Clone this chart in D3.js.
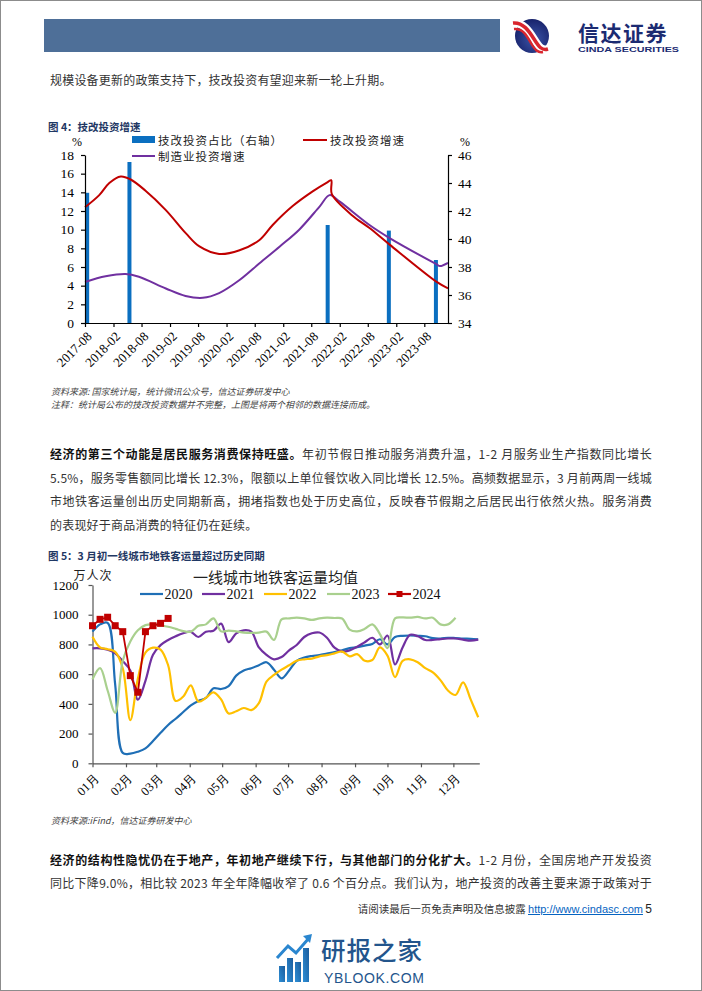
<!DOCTYPE html>
<html lang="zh"><head><meta charset="utf-8">
<script src="https://cdn.jsdelivr.net/npm/d3@7/dist/d3.min.js"></script>
<style>
html,body{margin:0;padding:0;}
body{width:702px;height:991px;position:relative;overflow:hidden;background:#fff;font-family:"Noto Sans CJK SC","Noto Sans",sans-serif;}
#svg{position:absolute;left:0;top:0;}
.foot{position:absolute;right:50px;top:901px;font-size:10.5px;line-height:16px;color:#333;white-space:nowrap;}
.foot a{font-family:"Liberation Sans",Arial,sans-serif;font-size:11px;color:#0563C1;text-decoration:underline;}
.foot span.n{font-family:"Liberation Sans",Arial,sans-serif;font-size:12px;color:#222;}
</style></head><body>
<svg id="svg" width="702" height="991"></svg>
<div class="foot">请阅读最后一页免责声明及信息披露 <a>http://www.cindasc.com</a> <span class="n">5</span></div>

<script>
// ================= DATA =================
// Figure 4
const c1TickLabels = ["2017-08","2018-02","2018-08","2019-02","2019-08","2020-02","2020-08","2021-02","2021-08","2022-02","2022-08","2023-02","2023-08"];
const c1LeftTicks = [0,2,4,6,8,10,12,14,16,18];
const c1RightTicks = [34,36,38,40,42,44,46];
const shareDates = ["2017-08-15","2018-05-15","2021-11-15","2022-12-15","2023-10-15"];
const shareValues = [43.3,45.5,41.0,40.6,38.5];           // 技改投资占比（右轴）
const techDates = ["2017-08-01","2017-11-01","2018-01-05","2018-03-20","2018-05-20","2018-08-25","2019-01-05","2019-05-15","2019-08-10","2019-12-15","2020-04-25","2020-09-01","2020-11-25","2021-04-01","2021-08-10","2021-11-15","2021-12-08","2021-12-12","2022-04-25","2022-08-10","2022-12-20","2023-10-20","2024-01-01"];
const techValues = [12.4,13.7,15.0,15.7,15.4,14.2,12.1,9.6,8.2,7.4,7.8,8.9,10.5,12.5,14.1,15.1,15.3,13.8,11.5,10.2,8.4,4.4,3.7];  // 技改投资增速
const mfgDates = ["2017-08-01","2017-12-12","2018-04-20","2018-07-15","2019-01-05","2019-05-12","2019-09-01","2019-12-15","2020-04-25","2020-09-01","2021-01-10","2021-05-15","2021-09-25","2021-11-28","2022-02-01","2022-08-12","2022-12-20","2023-10-18","2023-11-10","2024-01-01"];
const mfgValues = [4.4,5.0,5.25,4.96,3.7,2.9,2.7,3.2,4.6,6.4,8.2,10.0,12.5,13.7,13.0,10.5,9.1,6.3,6.1,6.45];  // 制造业投资增速

// Figure 5 (weekly, 万人次)
const monthLabels = ["01月","02月","03月","04月","05月","06月","07月","08月","09月","10月","11月","12月"];
const c2YTicks = [0,200,400,600,800,1000,1200];
const s2020 = [886,935,945,530,70,65,78,100,150,205,258,300,345,390,420,440,505,500,520,590,625,640,660,680,630,572,625,690,712,722,728,738,748,760,775,782,792,803,835,800,850,858,860,858,855,842,840,845,843,840,838,835];
const s2021 = [774,774,764,740,688,625,428,555,730,795,830,855,875,885,850,886,892,940,815,875,895,886,780,730,700,715,760,796,850,875,880,845,778,752,760,785,815,845,800,860,665,780,865,855,830,830,836,840,840,832,825,832];
const s2022 = [852,780,768,750,640,290,570,745,778,765,660,420,450,525,415,440,478,430,335,350,372,358,405,550,595,630,660,690,700,705,720,728,740,752,720,735,690,695,780,725,580,690,700,680,640,612,560,490,460,545,430,310];
const s2023 = [565,640,490,340,690,820,895,930,935,928,919,905,890,886,925,935,975,888,893,888,880,878,880,886,830,968,975,980,975,965,975,980,978,975,900,888,905,935,870,775,975,982,980,985,975,980,935,935,980];
const s2024 = [926,969,983,926,886,590,478,886,926,942,975];
const c2Series = [
  {name:"2020", values:s2020, color:"#1F6FB6"},
  {name:"2021", values:s2021, color:"#7030A0"},
  {name:"2022", values:s2022, color:"#FFC000"},
  {name:"2023", values:s2023, color:"#A9D08E"},
  {name:"2024", values:s2024, color:"#C00000", marker:true}
];

// Body text lines: [y-centre, bold part, normal part, justified]
const bodyLines = [
  [79, "", "规模设备更新的政策支持下，技改投资有望迎来新一轮上升期。", false],
  [453, "经济的第三个动能是居民服务消费保持旺盛。", "年初节假日推动服务消费升温，1-2 月服务业生产指数同比增长", true],
  [476.5, "", "5.5%，服务零售额同比增长 12.3%，限额以上单位餐饮收入同比增长 12.5%。高频数据显示，3 月前两周一线城", true],
  [500, "", "市地铁客运量创出历史同期新高，拥堵指数也处于历史高位，反映春节假期之后居民出行依然火热。服务消费", true],
  [523.5, "", "的表现好于商品消费的特征仍在延续。", false],
  [859, "经济的结构性隐忧仍在于地产，年初地产继续下行，与其他部门的分化扩大。", "1-2 月份，全国房地产开发投资", true],
  [882, "", "同比下降9.0%，相比较 2023 年全年降幅收窄了 0.6 个百分点。我们认为，地产投资的改善主要来源于政策对于", true]
];

// ================= DRAW =================
const SERIF = "'Liberation Serif','Times New Roman',serif";
const CJK = "'Noto Sans CJK SC',sans-serif";
const parse = d3.timeParse("%Y-%m-%d");
const parseM = d3.timeParse("%Y-%m");
const svg = d3.select("#svg");

// page frame
svg.append("rect").attr("x",0.5).attr("y",0.5).attr("width",701).attr("height",990)
  .attr("fill","none").attr("stroke","#8c8c8c");

// ---- header ----
svg.append("rect").attr("x",44).attr("y",19).attr("width",456).attr("height",33).attr("fill","#4E6F98");
const defs = svg.append("defs");
const rg = defs.append("radialGradient").attr("id","lg").attr("cx","55%").attr("cy","60%").attr("r","65%");
rg.append("stop").attr("offset","0%").attr("stop-color","#3C55A8");
rg.append("stop").attr("offset","100%").attr("stop-color","#141E66");
const logo = svg.append("g").attr("transform","translate(532,36)");
logo.append("circle").attr("r",17).attr("fill","url(#lg)");
const lb = logo.append("g");
lb.append("path").attr("d","M-19,-13 C-9,-14 -3,-5 2,3 S10,15 16,13").attr("fill","none").attr("stroke","#fff").attr("stroke-width",8);
lb.append("path").attr("d","M-19,-13 C-9,-14 -3,-5 2,3 S10,15 16,13").attr("fill","none").attr("stroke","#D9262E").attr("stroke-width",3.5);
lb.append("path").attr("d","M-18,-7 C-9,-8 -5,0 -1,7 S6,17 11,16").attr("fill","none").attr("stroke","#D9262E").attr("stroke-width",2.5);
svg.append("text").attr("x",578).attr("y",31.5).attr("dominant-baseline","central")
  .attr("font-family",CJK).attr("font-weight",700).attr("font-size",21).attr("letter-spacing","1.5px").attr("fill","#1B2B72").text("信达证券");
svg.append("text").attr("x",578).attr("y",49.5).attr("dominant-baseline","central")
  .attr("font-family","'Liberation Sans',Arial,sans-serif").attr("font-weight",700).attr("font-size",8)
  .attr("textLength",101).attr("lengthAdjust","spacingAndGlyphs").attr("fill","#1B2B72").text("CINDA SECURITIES");

// ---- body text ----
bodyLines.forEach(l=>{
  const t = svg.append("text").attr("x",50).attr("y",l[0]).attr("dominant-baseline","central")
    .attr("font-family",CJK).attr("font-size",12).attr("fill","#333").attr("letter-spacing","0.2px");
  if(l[3]) t.attr("textLength",602).attr("lengthAdjust","spacing");
  if(l[1]) t.append("tspan").attr("font-weight",700).attr("fill","#111").text(l[1]);
  t.append("tspan").text(l[2]);
});

// ================= FIGURE 4 =================
svg.append("text").attr("x",48).attr("y",126).attr("dominant-baseline","central")
  .attr("font-family",CJK).attr("font-weight",700).attr("font-size",10.5).attr("fill","#1F3864").text("图 4：技改投资增速");

const x1 = d3.scaleTime().domain([parse("2017-08-01"), parse("2024-01-01")]).range([85,448]);
const yL = d3.scaleLinear().domain([0,18]).range([323,155]);
const yR = d3.scaleLinear().domain([34,46]).range([323,155]);

const c1 = svg.append("g");
c1.selectAll("rect.bar").data(shareDates.map((d,i)=>({d:parse(d),v:shareValues[i]}))).join("rect")
  .attr("class","bar").attr("x",d=>x1(d.d)-2).attr("width",4)
  .attr("y",d=>yR(d.v)).attr("height",d=>yR(34)-yR(d.v)).attr("fill","#0B6FC0");
const line1L = d3.line().x(d=>x1(d.d)).y(d=>yL(d.v)).curve(d3.curveCatmullRom.alpha(0.5));
c1.append("path").datum(mfgDates.map((d,i)=>({d:parse(d),v:mfgValues[i]})))
  .attr("d",line1L).attr("fill","none").attr("stroke","#7030A0").attr("stroke-width",2);
c1.append("path").datum(techDates.map((d,i)=>({d:parse(d),v:techValues[i]})))
  .attr("d",line1L).attr("fill","none").attr("stroke","#C00000").attr("stroke-width",2);

function styleAxis(g, size){
  g.select(".domain").attr("stroke","#000").attr("stroke-width",1.2);
  g.selectAll(".tick line").attr("stroke","#000").attr("stroke-width",1.2);
  g.selectAll(".tick text").attr("fill","#000").attr("font-family",SERIF).attr("font-size",size);
}
const gL = c1.append("g").attr("transform","translate(85,0)")
  .call(d3.axisLeft(yL).tickValues(c1LeftTicks).tickSize(4).tickPadding(7).tickSizeOuter(0));
styleAxis(gL,13.5);
const gR = c1.append("g").attr("transform","translate(448,0)")
  .call(d3.axisRight(yR).tickValues(c1RightTicks).tickSize(4).tickPadding(6).tickSizeOuter(0));
styleAxis(gR,13.5);
const gX1 = c1.append("g").attr("transform","translate(0,323)")
  .call(d3.axisBottom(x1).tickValues(c1TickLabels.map(parseM)).tickFormat(d3.timeFormat("%Y-%m")).tickSize(4).tickSizeOuter(0));
styleAxis(gX1,13);
gX1.selectAll(".tick text").attr("text-anchor","end").attr("x",0).attr("y",0).attr("dy","0.35em")
  .attr("transform","translate(4,11) rotate(-45)");

c1.append("text").attr("x",77).attr("y",142).attr("text-anchor","middle").attr("dominant-baseline","central")
  .attr("font-family",SERIF).attr("font-size",12).text("%");
c1.append("text").attr("x",465).attr("y",142).attr("text-anchor","middle").attr("dominant-baseline","central")
  .attr("font-family",SERIF).attr("font-size",12).text("%");

const lg1 = c1.append("g").attr("font-family",CJK).attr("font-size",11.5).attr("letter-spacing","1px").attr("fill","#222");
lg1.append("rect").attr("x",132).attr("y",136).attr("width",23).attr("height",7).attr("fill","#0B6FC0");
lg1.append("text").attr("x",158).attr("y",140).attr("dominant-baseline","central").text("技改投资占比（右轴）");
lg1.append("line").attr("x1",303).attr("x2",327).attr("y1",140).attr("y2",140).attr("stroke","#C00000").attr("stroke-width",2);
lg1.append("text").attr("x",330).attr("y",140).attr("dominant-baseline","central").text("技改投资增速");
lg1.append("line").attr("x1",132).attr("x2",155).attr("y1",156).attr("y2",156).attr("stroke","#7030A0").attr("stroke-width",2);
lg1.append("text").attr("x",158).attr("y",156).attr("dominant-baseline","central").text("制造业投资增速");

const src = svg.append("g").attr("font-family",CJK).attr("font-size",9).attr("font-style","italic").attr("fill","#444");
src.append("text").attr("x",51).attr("y",391).attr("dominant-baseline","central").text("资料来源: 国家统计局，统计微讯公众号，信达证券研发中心");
src.append("text").attr("x",51).attr("y",404).attr("dominant-baseline","central").text("注释：统计局公布的技改投资数据并不完整，上图是将两个相邻的数据连接而成。");

// ================= FIGURE 5 =================
svg.append("text").attr("x",48).attr("y",555).attr("dominant-baseline","central")
  .attr("font-family",CJK).attr("font-weight",700).attr("font-size",10.5).attr("fill","#1F3864").text("图 5：3 月初一线城市地铁客运量超过历史同期");

const day0 = new Date(2023,0,1);
const x2 = d3.scaleTime().domain([day0, new Date(2023,11,25)]).range([92.5,479.3]);
const y2 = d3.scaleLinear().domain([0,1200]).range([763.3,585]);
const wk = i => d3.timeDay.offset(day0, 7*i);
const c2 = svg.append("g");

const gY2 = c2.append("g").attr("transform","translate(92.5,0)")
  .call(d3.axisLeft(y2).tickValues(c2YTicks).tickFormat(d3.format("d")).tickSize(4).tickPadding(10).tickSizeOuter(0));
styleAxis(gY2,13);
gY2.select(".domain").attr("stroke","#555"); gY2.selectAll(".tick line").attr("stroke","#555");
const monthDates = monthLabels.map((m,i)=>new Date(2023,i,1));
const gX2 = c2.append("g").attr("transform","translate(0,763.3)")
  .call(d3.axisBottom(x2).tickValues(monthDates).tickFormat((d,i)=>monthLabels[i]).tickSize(4).tickSizeOuter(0));
styleAxis(gX2,12.5);
gX2.select(".domain").attr("stroke","#555"); gX2.selectAll(".tick line").attr("stroke","#555");
gX2.selectAll(".tick text").attr("text-anchor","end").attr("x",0).attr("y",0).attr("dy","0.35em")
  .attr("transform","translate(4,12) rotate(-45)");

const line2 = d3.line().x((d,i)=>x2(wk(i))).y(d=>y2(d)).curve(d3.curveCatmullRom.alpha(0.5));
const line2s = d3.line().x((d,i)=>x2(wk(i))).y(d=>y2(d));
c2Series.forEach(s=>{
  c2.append("path").datum(s.values).attr("d", s.marker ? line2s : line2)
    .attr("fill","none").attr("stroke",s.color).attr("stroke-width",s.marker?1.8:2.2).attr("stroke-linejoin","round");
  if(s.marker){
    c2.selectAll("rect.mk").data(s.values).join("rect").attr("class","mk")
      .attr("x",(d,i)=>x2(wk(i))-3.5).attr("y",d=>y2(d)-3.5).attr("width",7).attr("height",7).attr("fill",s.color);
  }
});

c2.append("text").attr("x",93).attr("y",574).attr("text-anchor","middle").attr("dominant-baseline","central")
  .attr("font-family",CJK).attr("font-size",12).attr("letter-spacing","1px").attr("fill","#222").text("万人次");
c2.append("text").attr("x",193).attr("y",576).attr("dominant-baseline","central")
  .attr("font-family",CJK).attr("font-size",15).attr("fill","#222").text("一线城市地铁客运量均值");

const legX = [140,202,264,327,388];
c2Series.forEach((s,i)=>{
  const g = c2.append("g").attr("transform",`translate(${legX[i]},594)`);
  g.append("line").attr("x1",0).attr("x2",23).attr("stroke",s.color).attr("stroke-width",2.2);
  if(s.marker) g.append("rect").attr("x",8.5).attr("y",-3).attr("width",6).attr("height",6).attr("fill",s.color);
  g.append("text").attr("x",24.5).attr("dominant-baseline","central").attr("font-family",SERIF)
    .attr("font-size",14).attr("fill","#111").text(s.name);
});

svg.append("text").attr("x",51).attr("y",820).attr("dominant-baseline","central")
  .attr("font-family",CJK).attr("font-size",9).attr("font-style","italic").attr("fill","#444").text("资料来源:iFind，信达证券研发中心");

// ---- watermark ----
const wg = defs.append("linearGradient").attr("id","wg").attr("x1","0").attr("y1","1").attr("x2","1").attr("y2","0");
wg.append("stop").attr("offset","0%").attr("stop-color","#2E8FD6");
wg.append("stop").attr("offset","100%").attr("stop-color","#1B5C9C");
const wm = svg.append("g");
[[279,966,16],[287,958,24],[295,962,20],[303,948,34]].forEach(b=>{
  wm.append("rect").attr("x",b[0]).attr("y",b[1]).attr("width",6).attr("height",b[2]).attr("fill","url(#wg)");
});
wm.append("path").attr("d","M277,958 L288,946 L296,953 L309,938").attr("fill","none").attr("stroke","#2A86CF").attr("stroke-width",3);
wm.append("path").attr("d","M303,936 L312,934 L310,943 Z").attr("fill","#2A86CF");
wm.append("text").attr("x",321).attr("y",949.5).attr("dominant-baseline","central").attr("font-family",CJK)
  .attr("font-size",24.5).attr("font-weight",500).attr("letter-spacing","1px").attr("fill","#23558C").text("研报之家");
wm.append("text").attr("x",324).attr("y",977.5).attr("dominant-baseline","central").attr("font-family","'Liberation Sans',Arial,sans-serif")
  .attr("font-size",14).attr("textLength",100).attr("fill","#23558C").text("YBLOOK.COM");
</script>
</body></html>
